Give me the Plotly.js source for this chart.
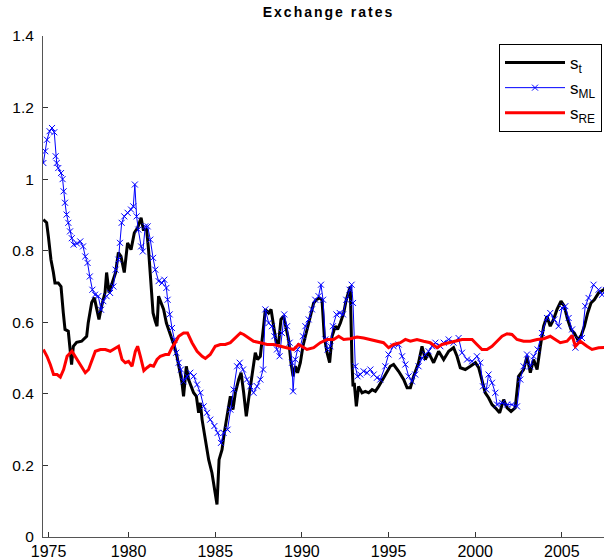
<!DOCTYPE html>
<html>
<head>
<meta charset="utf-8">
<script src="https://cdn.plot.ly/plotly-3.0.1.min.js"></script>
<style>
html,body{margin:0;padding:0;overflow:hidden;background:#fff;}
#chart{width:614px;height:557px;}
</style>
</head>
<body>
<div id="chart"></div>
<script>
// s_t (actual exchange rate)
const stYears = [1975.08,1975.27,1975.37,1975.52,1975.66,1975.75,1975.94,1976.10,1976.23,1976.33,
1976.52,1976.62,1976.71,1976.81,1977.00,1977.29,1977.58,1977.67,1977.87,1978.02,
1978.15,1978.29,1978.44,1978.64,1978.73,1978.87,1979.06,1979.25,1979.41,1979.56,
1979.75,1979.94,1980.14,1980.33,1980.52,1980.72,1980.85,1981.04,1981.15,1981.25,
1981.41,1981.54,1981.64,1981.73,1981.87,1982.02,1982.18,1982.31,1982.50,1982.64,
1982.79,1982.94,1983.08,1983.17,1983.33,1983.46,1983.60,1983.75,1983.91,1984.04,
1984.14,1984.24,1984.43,1984.62,1984.81,1984.95,1985.10,1985.22,1985.39,1985.52,
1985.68,1985.77,1985.87,1986.02,1986.16,1986.35,1986.49,1986.64,1986.79,1986.92,
1987.12,1987.31,1987.44,1987.60,1987.79,1987.89,1988.08,1988.22,1988.37,1988.52,
1988.66,1988.79,1988.94,1989.10,1989.23,1989.37,1989.49,1989.62,1989.75,1989.91,
1990.06,1990.20,1990.33,1990.49,1990.68,1990.83,1991.02,1991.16,1991.29,1991.45,
1991.60,1991.74,1991.93,1992.06,1992.22,1992.41,1992.56,1992.69,1992.79,1992.89,
1992.95,1993.02,1993.14,1993.27,1993.47,1993.66,1993.85,1994.05,1994.24,1994.43,
1994.81,1995.10,1995.29,1995.58,1995.87,1996.07,1996.26,1996.45,1996.73,1996.93,
1997.12,1997.31,1997.60,1997.89,1998.18,1998.47,1998.75,1998.95,1999.14,1999.43,
1999.72,2000.01,2000.20,2000.39,2000.58,2000.77,2000.97,2001.16,2001.41,2001.64,
2001.84,2002.07,2002.31,2002.50,2002.79,2002.99,2003.18,2003.37,2003.57,2003.76,
2003.95,2004.14,2004.33,2004.52,2004.72,2004.95,2005.14,2005.33,2005.53,2005.72,
2005.91,2006.10,2006.30,2006.49,2006.68,2006.87,2007.12,2007.41,2007.70];
const stValues = [0.887,0.878,0.84,0.775,0.739,0.71,0.71,0.70,0.627,0.58,
0.575,0.533,0.482,0.533,0.544,0.547,0.561,0.599,0.655,0.669,
0.641,0.608,0.645,0.683,0.739,0.683,0.711,0.739,0.795,0.784,
0.739,0.822,0.803,0.85,0.864,0.892,0.859,0.859,0.803,0.728,
0.626,0.603,0.589,0.673,0.654,0.636,0.598,0.58,0.552,0.533,
0.505,0.468,0.431,0.393,0.477,0.44,0.421,0.403,0.393,0.347,
0.375,0.328,0.272,0.216,0.179,0.133,0.091,0.216,0.244,0.291,
0.337,0.356,0.393,0.356,0.403,0.44,0.459,0.403,0.337,0.384,
0.459,0.515,0.496,0.505,0.589,0.636,0.626,0.636,0.589,0.543,
0.543,0.608,0.617,0.58,0.552,0.487,0.449,0.477,0.459,0.487,
0.533,0.561,0.589,0.617,0.654,0.663,0.668,0.663,0.561,0.515,
0.487,0.561,0.589,0.58,0.598,0.626,0.663,0.682,0.70,0.487,
0.421,0.431,0.365,0.421,0.403,0.407,0.403,0.412,0.407,0.421,
0.454,0.477,0.482,0.463,0.44,0.417,0.417,0.449,0.487,0.533,
0.496,0.515,0.487,0.519,0.496,0.519,0.529,0.505,0.473,0.468,
0.477,0.487,0.473,0.44,0.403,0.389,0.37,0.361,0.347,0.384,
0.361,0.351,0.361,0.449,0.468,0.505,0.459,0.496,0.468,0.533,
0.589,0.617,0.589,0.608,0.636,0.659,0.645,0.608,0.58,0.57,
0.552,0.561,0.589,0.626,0.654,0.663,0.682,0.691,0.70];

// s_ML
const mlYears = [1975.08,1975.19,1975.29,1975.44,1975.58,1975.71,1975.79,1975.85,1975.94,1976.10,
1976.19,1976.25,1976.33,1976.42,1976.52,1976.62,1976.72,1976.83,1977.02,1977.21,
1977.37,1977.50,1977.63,1977.76,1977.91,1978.06,1978.25,1978.41,1978.54,1978.73,
1978.93,1979.12,1979.25,1979.41,1979.50,1979.60,1979.75,1979.94,1980.14,1980.27,
1980.36,1980.46,1980.56,1980.72,1980.82,1980.96,1981.10,1981.25,1981.41,1981.54,
1981.73,1981.93,1982.06,1982.18,1982.25,1982.37,1982.50,1982.64,1982.75,1982.89,
1983.02,1983.17,1983.37,1983.56,1983.75,1983.95,1984.14,1984.33,1984.52,1984.71,
1984.95,1985.14,1985.33,1985.48,1985.71,1985.87,1986.06,1986.26,1986.41,1986.60,
1986.83,1987.02,1987.21,1987.41,1987.60,1987.76,1987.89,1988.08,1988.27,1988.41,
1988.56,1988.71,1988.85,1988.98,1989.14,1989.29,1989.43,1989.49,1989.62,1989.75,
1989.91,1990.06,1990.20,1990.39,1990.58,1990.77,1990.96,1991.10,1991.22,1991.35,
1991.48,1991.64,1991.79,1991.99,1992.18,1992.37,1992.56,1992.75,1992.87,1992.95,
1993.08,1993.21,1993.37,1993.56,1993.76,1993.95,1994.14,1994.33,1994.52,1994.81,
1995.00,1995.29,1995.58,1995.78,1995.97,1996.16,1996.35,1996.54,1996.73,1996.93,
1997.12,1997.31,1997.51,1997.70,1997.99,1998.18,1998.47,1998.75,1999.04,1999.24,
1999.53,1999.82,2000.10,2000.29,2000.45,2000.64,2000.77,2000.97,2001.16,2001.26,
2001.55,2001.84,2002.12,2002.41,2002.60,2002.79,2002.99,2003.18,2003.37,2003.60,
2003.85,2004.14,2004.33,2004.56,2004.81,2005.01,2005.20,2005.39,2005.59,2005.78,
2005.97,2006.16,2006.35,2006.54,2006.83,2007.12,2007.32,2007.55,2007.75];
const mlValues = [1.045,1.078,1.11,1.134,1.143,1.131,1.064,1.045,1.031,1.017,
1.0,0.966,0.934,0.901,0.878,0.854,0.835,0.817,0.82,0.826,
0.812,0.784,0.766,0.728,0.691,0.677,0.673,0.635,0.659,0.673,
0.682,0.70,0.747,0.775,0.822,0.878,0.896,0.906,0.915,0.924,
0.985,0.896,0.859,0.812,0.798,0.868,0.868,0.831,0.78,0.747,
0.715,0.71,0.719,0.696,0.663,0.622,0.584,0.552,0.515,0.487,
0.468,0.435,0.449,0.459,0.449,0.426,0.403,0.365,0.347,0.328,
0.31,0.291,0.263,0.291,0.30,0.356,0.412,0.477,0.487,0.468,
0.44,0.421,0.403,0.421,0.44,0.468,0.636,0.598,0.589,0.561,
0.524,0.505,0.57,0.622,0.589,0.543,0.487,0.407,0.496,0.524,
0.533,0.561,0.589,0.608,0.636,0.663,0.673,0.705,0.663,0.552,
0.524,0.533,0.589,0.622,0.626,0.622,0.663,0.691,0.705,0.654,
0.477,0.449,0.454,0.463,0.459,0.468,0.454,0.445,0.44,0.477,
0.51,0.533,0.538,0.505,0.482,0.449,0.435,0.454,0.477,0.50,
0.51,0.519,0.533,0.543,0.533,0.543,0.552,0.543,0.556,0.515,
0.496,0.491,0.505,0.487,0.421,0.412,0.454,0.431,0.403,0.37,
0.375,0.37,0.37,0.365,0.44,0.477,0.51,0.477,0.505,0.524,
0.57,0.612,0.626,0.608,0.589,0.64,0.645,0.612,0.58,0.529,
0.552,0.556,0.645,0.668,0.705,0.691,0.677,0.69,0.68];

// s_RE
const reYears = [1975.08,1975.29,1975.48,1975.67,1975.87,1976.06,1976.25,1976.45,1976.73,1976.92,
1977.11,1977.31,1977.50,1977.69,1977.89,1978.08,1978.37,1978.66,1978.94,1979.23,
1979.42,1979.62,1979.81,1980.00,1980.20,1980.39,1980.52,1980.68,1980.88,1981.06,
1981.25,1981.44,1981.64,1981.83,1982.12,1982.31,1982.50,1982.69,1982.89,1983.17,
1983.40,1983.66,1983.95,1984.24,1984.43,1984.71,1985.00,1985.29,1985.58,1985.87,
1986.16,1986.45,1986.64,1986.92,1987.21,1987.60,1987.99,1988.37,1988.75,1989.14,
1989.52,1989.81,1990.29,1990.68,1991.06,1991.45,1991.83,1992.12,1992.41,1992.79,
1993.18,1993.56,1993.95,1994.33,1994.71,1995.00,1995.29,1995.68,1995.97,1996.26,
1996.64,1997.02,1997.41,1997.80,1998.08,1998.47,1998.85,1999.24,1999.53,1999.82,
2000.10,2000.39,2000.68,2000.97,2001.26,2001.55,2001.84,2002.12,2002.41,2002.79,
2003.18,2003.57,2003.95,2004.33,2004.62,2004.91,2005.30,2005.59,2005.78,2006.06,
2006.45,2006.74,2007.12,2007.41,2007.70];
const reValues = [0.524,0.505,0.482,0.454,0.454,0.447,0.468,0.505,0.519,0.505,
0.491,0.473,0.459,0.468,0.496,0.519,0.524,0.524,0.519,0.529,
0.533,0.496,0.487,0.491,0.477,0.519,0.533,0.505,0.465,0.473,
0.48,0.477,0.496,0.505,0.51,0.51,0.529,0.543,0.561,0.57,
0.57,0.543,0.519,0.505,0.499,0.51,0.533,0.538,0.538,0.543,
0.556,0.57,0.566,0.556,0.547,0.543,0.538,0.538,0.533,0.529,
0.524,0.538,0.524,0.529,0.543,0.552,0.552,0.561,0.552,0.554,
0.559,0.556,0.552,0.547,0.543,0.529,0.538,0.543,0.552,0.547,
0.552,0.547,0.543,0.529,0.538,0.543,0.547,0.552,0.552,0.552,
0.538,0.524,0.524,0.533,0.547,0.561,0.568,0.566,0.552,0.547,
0.547,0.552,0.554,0.561,0.552,0.543,0.547,0.563,0.533,0.547,
0.533,0.524,0.529,0.529,0.53];

const xTickVals = [1975.38,1980,1985,1990,1995,2000,2005];
const xTickText = ['1975','1980','1985','1990','1995','2000','2005'];
const yTickVals = [0,0.2,0.4,0.6,0.8,1,1.2,1.4];
const yTickText = ['0','0.2','0.4','0.6','0.8','1','1.2','1.4'];
const seriesNames = ['s<sub>t</sub>','s<sub>ML</sub>','s<sub>RE</sub>'];

const FONT = 'Liberation Sans, Arial, Helvetica, sans-serif';

const traces = [
  {x: stYears, y: stValues, name: seriesNames[0], type: 'scatter', mode: 'lines',
   line: {color: '#000000', width: 3}},
  {x: mlYears, y: mlValues, name: seriesNames[1], type: 'scatter', mode: 'lines+markers',
   line: {color: '#0000ff', width: 1},
   marker: {symbol: 'x-thin', size: 6, color: '#0000ff', line: {color: '#0000ff', width: 1}}},
  {x: reYears, y: reValues, name: seriesNames[2], type: 'scatter', mode: 'lines',
   line: {color: '#ff0000', width: 3}}
];

const layout = {
  width: 614, height: 557,
  margin: {l: 43, r: 0, t: 36, b: 20, pad: 0},
  paper_bgcolor: '#ffffff', plot_bgcolor: '#ffffff',
  font: {family: FONT, size: 15, color: '#000000'},
  title: {text: '<b>Exchange rates</b>', font: {family: FONT, size: 14, color: '#000000'},
          x: 0.5, xref: 'paper', y: 1 - 12/557, yref: 'container', yanchor: 'middle'},
  showlegend: true,
  legend: {x: (499-43)/571, xanchor: 'left', y: (537-44)/501, yanchor: 'top',
           bgcolor: '#ffffff', bordercolor: '#000000', borderwidth: 1, itemwidth: 60,
           font: {family: FONT, size: 17, color: '#000000'}, tracegroupgap: 0},
  xaxis: {range: [1975.06, 1975.06 + 571/17.33], showgrid: false, zeroline: false,
          showline: true, linecolor: '#555555', linewidth: 1, mirror: false,
          ticks: 'inside', ticklen: 5, tickcolor: '#333333', tickwidth: 1,
          tickmode: 'array', tickvals: xTickVals, ticktext: xTickText,
          tickfont: {family: FONT, size: 16, color: '#000000'}, ticklabelstandoff: 0},
  yaxis: {range: [0, 1.4], showgrid: false, zeroline: false,
          showline: true, linecolor: '#555555', linewidth: 1, mirror: false,
          ticks: 'inside', ticklen: 5, tickcolor: '#333333', tickwidth: 1,
          tickmode: 'array', tickvals: yTickVals, ticktext: yTickText,
          tickfont: {family: FONT, size: 15.5, color: '#000000'}, ticklabelstandoff: 5}
};

Plotly.newPlot('chart', traces, layout, {displayModeBar: false, staticPlot: true}).then(function () {
  var t = document.querySelector('.gtitle');
  if (t) { t.style.letterSpacing = '2px'; }
});
</script>
</body>
</html>
